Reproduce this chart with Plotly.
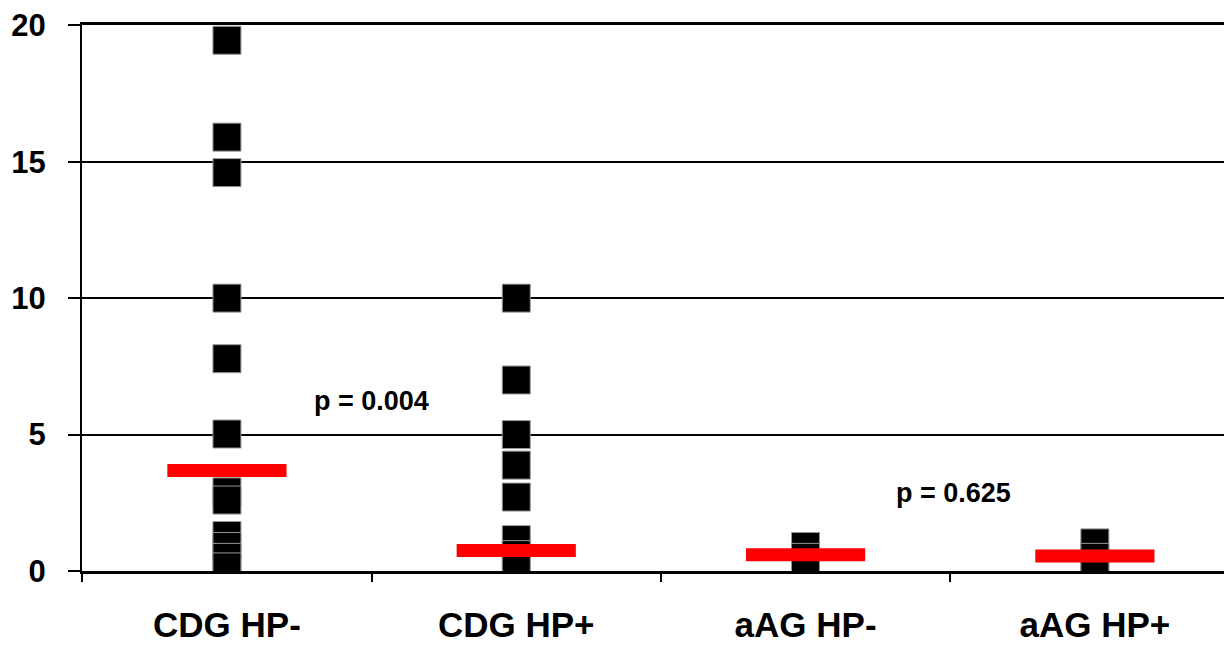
import plotly.graph_objects as go

categories = ["CDG HP-", "CDG HP+", "aAG HP-", "aAG HP+"]
cdg_hp_minus = [19.45, 15.9, 14.6, 10.0, 7.78, 5.02, 2.9, 2.6, 1.3, 0.9, 0.5, 0.15]
cdg_hp_plus = [10.0, 7.0, 5.0, 3.88, 2.71, 1.15, 0.6, 0.09]
aag_hp_minus = [0.9, 0.5, 0.13]
aag_hp_plus = [1.03, 0.5, 0.09]
series = [cdg_hp_minus, cdg_hp_plus, aag_hp_minus, aag_hp_plus]
medians = [3.68, 0.75, 0.6, 0.55]
p_labels = ["p = 0.004", "p = 0.625"]
p_pos_x = [0.5, 2.51]
p_pos_y = [6.23, 2.86]
y_ticks = [0, 5, 10, 15, 20]

FONT = "Liberation Sans, Arial, sans-serif"

fig = go.Figure()

# data points
xs, ys = [], []
for i, vals in enumerate(series):
    xs += [i] * len(vals)
    ys += vals
fig.add_trace(go.Scatter(
    x=xs, y=ys, mode="markers",
    marker=dict(symbol="square", size=28, color="black",
                line=dict(color="#999999", width=1)),
    showlegend=False, hoverinfo="skip"))

# median bars
half = 0.206
mx, my = [], []
for i, m in enumerate(medians):
    mx += [i - half, i + half, None]
    my += [m, m, None]
fig.add_trace(go.Scatter(
    x=mx, y=my, mode="lines",
    line=dict(color="#ff0000", width=13),
    showlegend=False, hoverinfo="skip"))

for t, px, py in zip(p_labels, p_pos_x, p_pos_y):
    fig.add_annotation(x=px, y=py, xref="x", yref="y", text="<b>%s</b>" % t,
                       showarrow=False, font=dict(family=FONT, size=27, color="black"))

fig.update_layout(
    width=1224, height=640,
    margin=dict(l=74, r=0, t=17, b=77),
    paper_bgcolor="white", plot_bgcolor="white",
    xaxis=dict(
        range=[-0.501, 3.474], automargin=False,
        tickmode="array", tickvals=list(range(len(categories))), ticktext=categories,
        ticks="", showgrid=False, zeroline=False,
        showline=True, linecolor="black", linewidth=3, mirror=True,
        tickfont=dict(family=FONT, size=35, color="black", weight="bold"),
        ticklabelstandoff=21,
        minor=dict(ticks="outside", tickmode="linear", tick0=0.5, dtick=1,
                   ticklen=8, tickwidth=2, tickcolor="black", showgrid=False),
    ),
    yaxis=dict(
        range=[0, 20.01], tickmode="array", tickvals=y_ticks, automargin=False,
        ticks="outside", ticklen=12, tickwidth=2, tickcolor="black",
        showgrid=True, gridcolor="black", gridwidth=2,
        zeroline=False, showline=True, linecolor="black", linewidth=2,
        tickfont=dict(family=FONT, size=31, color="black", weight="bold"),
        ticklabelstandoff=16,
    ),
)

fig.write_html("out.html")
